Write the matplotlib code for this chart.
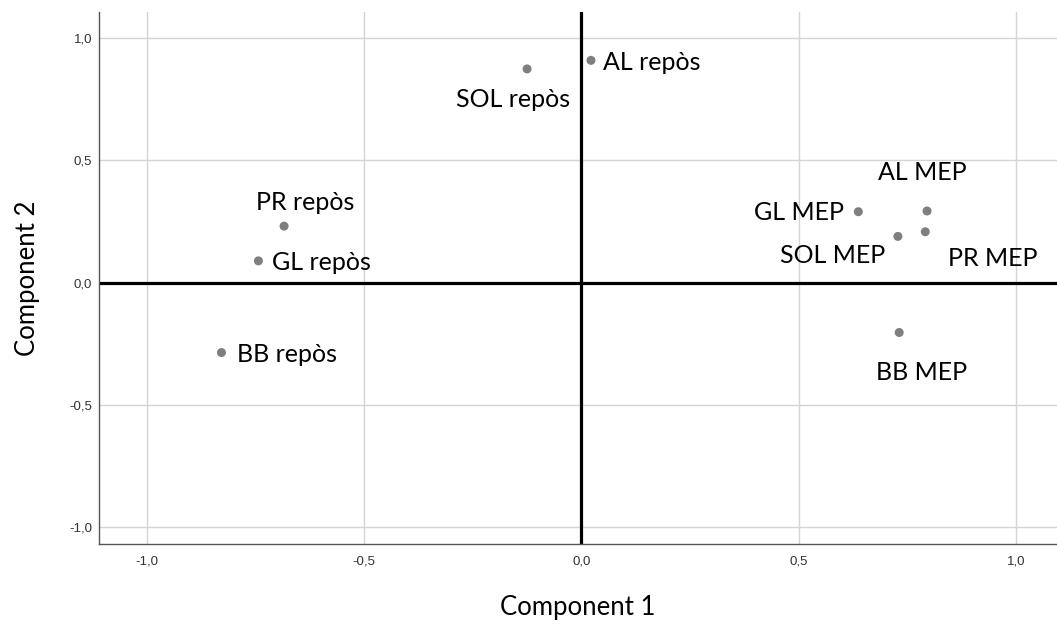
import matplotlib
matplotlib.use("Agg")
import matplotlib.pyplot as plt
from matplotlib.ticker import FuncFormatter

labels = ["AL MEP", "PR MEP", "SOL MEP", "GL MEP", "BB MEP",
          "PR repòs", "GL repòs", "BB repòs", "SOL repòs", "AL repòs"]
comp1 = [0.795, 0.791, 0.728, 0.637, 0.731, -0.684, -0.743, -0.828, -0.125, 0.022]
comp2 = [0.293, 0.208, 0.189, 0.290, -0.204, 0.231, 0.089, -0.286, 0.874, 0.909]
ticks = [-1.0, -0.5, 0.0, 0.5, 1.0]

# label offsets in pixels (dx, dy) and alignment
offsets = {
    "AL MEP": (-5, 38, "center"),
    "PR MEP": (23, -27, "left"),
    "SOL MEP": (-13, -19, "right"),
    "GL MEP": (-14, -1, "right"),
    "BB MEP": (22, -40, "center"),
    "PR repòs": (21, 24, "center"),
    "GL repòs": (14, -2, "left"),
    "BB repòs": (16, -2, "left"),
    "SOL repòs": (-14, -31, "center"),
    "AL repòs": (12, -2, "left"),
}

fig = plt.figure(figsize=(10.57, 6.40), dpi=100)
ax = fig.add_axes([99.3 / 1057, 1 - 544 / 640, 1 - 99.3 / 1057, (544 - 11.7) / 640])

ax.set_xlim(-1.109, 1.094)
ax.set_ylim(-1.069, 1.108)
ax.set_xticks(ticks)
ax.set_yticks(ticks)
fmt = FuncFormatter(lambda v, p: f"{v:.1f}".replace(".", ","))
ax.xaxis.set_major_formatter(fmt)
ax.yaxis.set_major_formatter(fmt)
ax.tick_params(length=0, labelsize=9.5, labelcolor="#333333")
ax.tick_params(axis="x", pad=8)
ax.tick_params(axis="y", pad=5)
for lab in ax.get_xticklabels() + ax.get_yticklabels():
    lab.set_fontfamily("Liberation Sans")

ax.grid(True, color="#d4d4d4", linewidth=1.0)
ax.set_axisbelow(True)
for s in ["top", "right"]:
    ax.spines[s].set_visible(False)
for s in ["left", "bottom"]:
    ax.spines[s].set_color("#555555")
    ax.spines[s].set_linewidth(1.0)

ax.axhline(0, color="black", linewidth=2.3, zorder=2)
ax.axvline(0, color="black", linewidth=2.3, zorder=2)

ax.scatter(comp1, comp2, s=42, color="#7f7f7f", edgecolors="none", zorder=3)
for lab, x, y in zip(labels, comp1, comp2):
    dx, dy, ha = offsets[lab]
    ax.annotate(lab, (x, y), xytext=(dx * 0.72, dy * 0.72), textcoords="offset points",
                ha=ha, va="center", fontsize=18, fontfamily="Lato", color="black", zorder=4)

ax.set_xlabel("Component 1", fontsize=18.5, fontfamily="Lato", labelpad=20)
ax.set_ylabel("Component 2", fontsize=18.5, fontfamily="Lato", labelpad=21)

fig.savefig("out.png", dpi=100)
